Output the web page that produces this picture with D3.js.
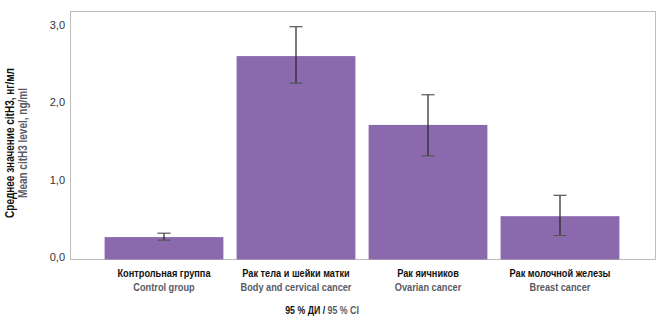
<!DOCTYPE html>
<html>
<head>
<meta charset="utf-8">
<script src="https://cdn.jsdelivr.net/npm/d3@7"></script>
<style>
  body { margin: 0; background: #fff; }
  svg { font-family: "Liberation Sans", Arial, sans-serif; }
  .ru { font-weight: bold; fill: #111; }
  .en { font-weight: bold; fill: #5a5a66; }
</style>
</head>
<body>
<svg id="chart" width="659" height="327"></svg>
<script>
const groupsRu = ["Контрольная группа", "Рак тела и шейки матки", "Рак яичников", "Рак молочной железы"];
const groupsEn = ["Control group", "Body and cervical cancer", "Ovarian cancer", "Breast cancer"];
const means = [0.29, 2.63, 1.74, 0.56];
const ciLow = [0.25, 2.28, 1.34, 0.31];
const ciHigh = [0.34, 3.01, 2.13, 0.83];
const yTicks = [0, 1, 2, 3];

const svg = d3.select("#chart");
const plotLeft = 71, plotRight = 656, plotTop = 12, plotBottom = 260;
const narrow = 0.8; // condensed look of the original typeface

const x = d3.scaleBand()
  .domain(groupsRu)
  .range([98, 626])
  .paddingInner(0.1)
  .paddingOuter(0.05);

const y = d3.scaleLinear()
  .domain([0, 3.2])
  .range([plotBottom - 0.5, plotTop]);

const data = groupsRu.map((g, i) => ({ g, en: groupsEn[i], m: means[i], lo: ciLow[i], hi: ciHigh[i] }));
const cx = d => x(d.g) + x.bandwidth() / 2;

// frame
svg.append("rect")
  .attr("x", plotLeft - 0.5)
  .attr("y", plotTop - 0.5)
  .attr("width", plotRight - plotLeft)
  .attr("height", plotBottom - plotTop)
  .attr("fill", "none")
  .attr("stroke", "#bdbdbd")
  .attr("stroke-width", 1);

// bars
svg.selectAll(".bar")
  .data(data)
  .enter()
  .append("rect")
  .attr("class", "bar")
  .attr("x", d => x(d.g))
  .attr("y", d => y(d.m))
  .attr("width", x.bandwidth())
  .attr("height", d => y(0) - y(d.m))
  .attr("fill", "#8a6aad");

// error bars
const err = svg.selectAll(".err")
  .data(data)
  .enter()
  .append("g")
  .attr("class", "err")
  .attr("stroke", "#222")
  .attr("stroke-width", 1.2);

err.append("line")
  .attr("x1", cx)
  .attr("x2", cx)
  .attr("y1", d => y(d.hi))
  .attr("y2", d => y(d.lo));

err.append("line")
  .attr("x1", d => cx(d) - 6.5)
  .attr("x2", d => cx(d) + 6.5)
  .attr("y1", d => y(d.hi))
  .attr("y2", d => y(d.hi))
  .attr("stroke", "#555");

err.append("line")
  .attr("x1", d => cx(d) - 6.5)
  .attr("x2", d => cx(d) + 6.5)
  .attr("y1", d => y(d.lo))
  .attr("y2", d => y(d.lo))
  .attr("stroke", "#555");

// y axis labels
const yAxis = svg.append("g")
  .attr("transform", `translate(${plotLeft}, 0)`)
  .call(d3.axisLeft(y).tickValues(yTicks).tickSize(0).tickPadding(6)
    .tickFormat(d => d3.format(".1f")(d).replace(".", ",")));
yAxis.select(".domain").remove();
yAxis.selectAll(".tick text")
  .attr("fill", "#333")
  .attr("font-size", 11)
  .attr("dy", "0.1em");

// x labels
const xl = svg.selectAll(".xl")
  .data(data)
  .enter()
  .append("g")
  .attr("class", "xl")
  .attr("text-anchor", "middle")
  .attr("font-size", 11.5)
  .attr("transform", d => `translate(${cx(d)},0) scale(${narrow},1)`);

xl.append("text")
  .attr("class", "ru")
  .attr("y", 277)
  .text(d => d.g);

xl.append("text")
  .attr("class", "en")
  .attr("y", 291)
  .text(d => d.en);

// y title
const yt = svg.append("text")
  .attr("transform", `translate(0, 143) rotate(-90) scale(${narrow},1)`)
  .attr("text-anchor", "middle")
  .attr("font-size", 12.5);
yt.append("tspan")
  .attr("class", "ru")
  .attr("x", 0)
  .attr("y", 14)
  .text("Среднее значение citH3, нг/мл");
yt.append("tspan")
  .attr("class", "en")
  .attr("x", 0)
  .attr("y", 27.5)
  .text("Mean citH3 level, ng/ml");

// x title
const xt = svg.append("text")
  .attr("transform", `translate(322, 314) scale(${narrow},1)`)
  .attr("text-anchor", "middle")
  .attr("font-size", 11);
xt.append("tspan").attr("class", "ru").text("95 % ДИ / ");
xt.append("tspan").attr("class", "en").text("95 % CI");
</script>
</body>
</html>
